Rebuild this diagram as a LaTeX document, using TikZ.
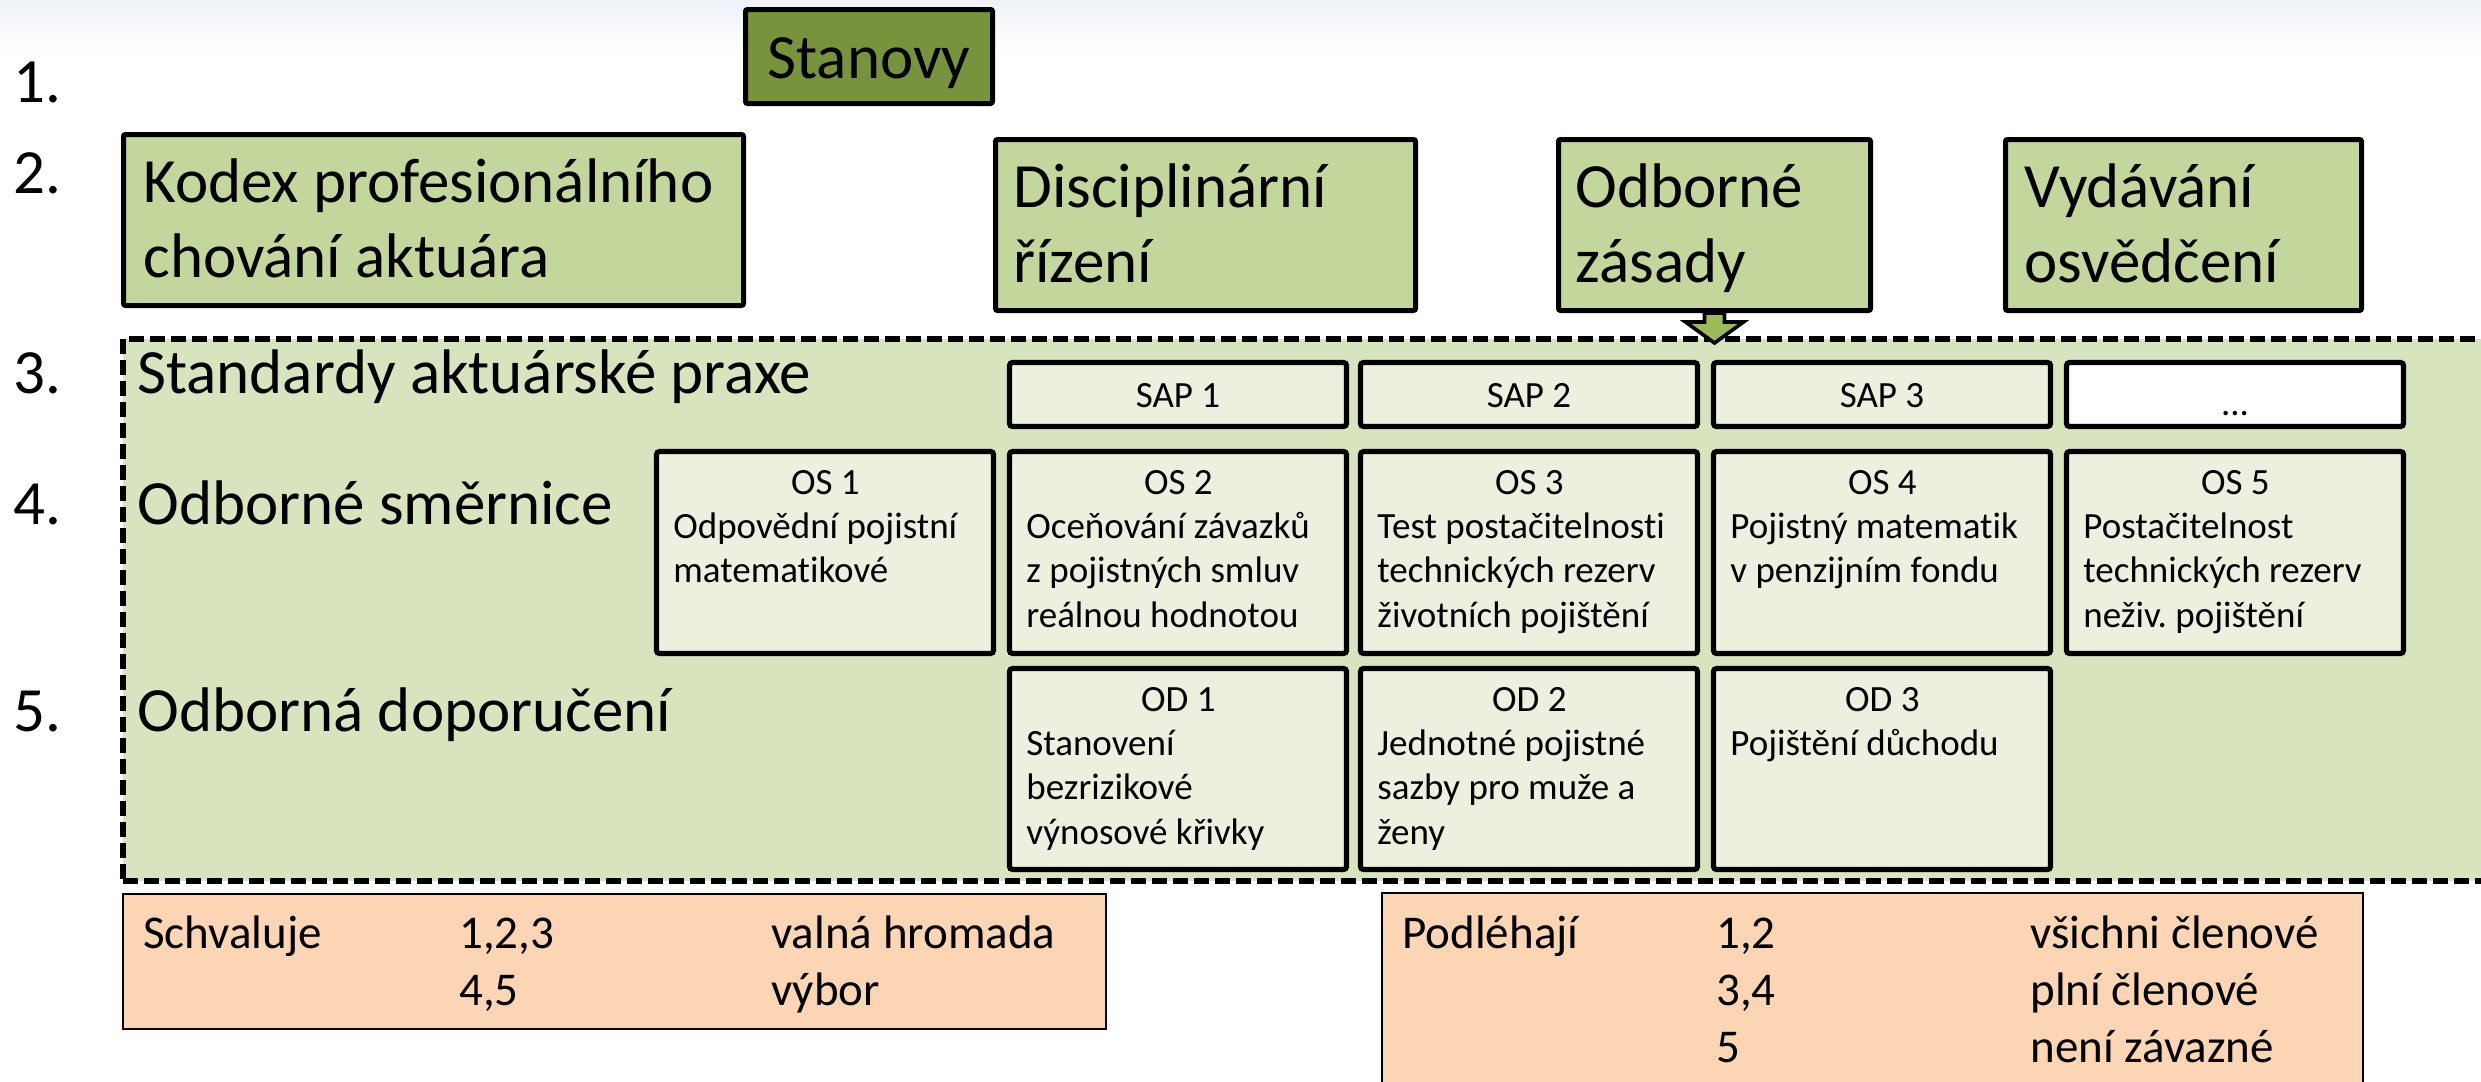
\documentclass[tikz,border=0pt]{standalone}
\usepackage{fontspec}
\setmainfont{Carlito}[Ligatures=NoCommon]
\frenchspacing
\usetikzlibrary{calc}
\definecolor{stanc}{HTML}{77933C}
\definecolor{lvltwo}{HTML}{C3D69B}
\definecolor{stdbg}{HTML}{D7E4BD}
\definecolor{smallbg}{HTML}{EBF1DE}
\definecolor{peach}{HTML}{FCD5B5}
\definecolor{arrowg}{HTML}{9BBB59}
\definecolor{topgrey}{HTML}{EEF2F7}
\newcommand\bigf{\fontsize{31.5}{37.8}\selectfont}
\newcommand\smallf{\fontsize{18.5}{22.2}\selectfont}
\newcommand\midf{\fontsize{23.5}{28.5}\selectfont}
\newcommand\cellbody[2]{\parbox[t]{152pt}{\centering #1\par\raggedright #2}}
\newcommand\twolines[1]{\begin{tabular}[t]{@{}l@{}}#1\end{tabular}}
\tikzset{
  lbl/.style={anchor=base west, inner sep=0, font=\bigf},
  stanbox/.style={draw, line width=2.5pt, fill=stanc, rounded corners=1pt, inner sep=0},
  greenbox/.style={draw, line width=2.5pt, fill=lvltwo, rounded corners=1pt, inner sep=0, minimum height=85.5pt},
  dashbox/.style={draw, line width=2.6pt, dash pattern=on 7.5pt off 3pt, fill=stdbg, inner sep=0},
  cellbox/.style={draw, line width=2.6pt, fill=smallbg, rounded corners=1.5pt, inner sep=0, minimum width=168.5pt},
  sapbox/.style={cellbox, minimum height=32pt},
  osbox/.style={cellbox, minimum height=101pt},
  odbox/.style={cellbox, minimum height=100.5pt},
  celltxt/.style={anchor=base west, inner sep=0, font=\smallf},
  saptxt/.style={anchor=base, inner sep=0, font=\smallf},
  notebox/.style={draw, line width=1pt, fill=peach, inner sep=0},
  notetxt/.style={anchor=base west, inner sep=0, font=\midf},
  blockarrow/.style={draw, line width=1.8pt, fill=arrowg, line join=miter}
}
\begin{document}
\begin{tikzpicture}[x=0.5pt,y=-0.5pt]
\useasboundingbox (0,0) rectangle (2481,1082);
\clip (0,0) rectangle (2481,1082);
\fill[white] (0,0) rectangle (2481,1082);
\shade[top color=topgrey, bottom color=white] (0,0) rectangle (2481,55);

% level numbers
\node[lbl] (n1) at (13,102) {1.};
\node[lbl] (n2) at (13,193) {2.};
\node[lbl] (n3) at (13,393) {3.};
\node[lbl] (n4) at (13,524) {4.};
\node[lbl] (n5) at (13,731) {5.};

% level 1
\node[stanbox, minimum width=123.5pt, minimum height=47pt] (stan) at (869,56.5) {};
\node[anchor=base, inner sep=0, font=\bigf] (stant) at (869,78) {Stanovy};

% level 2
\node[greenbox, minimum width=310pt] (kodex) at (433.5,220) {};
\node[lbl] (kodext) at (143,202) {\twolines{Kodex profesionálního\\chování aktuára}};
\node[greenbox, minimum width=210pt] (disc) at (1205.5,225) {};
\node[lbl] (disct) at (1013,207) {\twolines{Disciplinární\\řízení}};
\node[greenbox, minimum width=156pt] (oz) at (1714.5,225) {};
\node[lbl] (ozt) at (1575,207) {\twolines{Odborné\\zásady}};
\node[greenbox, minimum width=178pt] (vyd) at (2183.5,225) {};
\node[lbl] (vydt) at (2024,207) {\twolines{Vydávání\\osvědčení}};

% standards area
\node[dashbox, minimum width=1208.5pt, minimum height=271pt] (std) at (1331.5,610) {};

% arrow from Odborné zásady into the standards area
\draw[blockarrow] ($(oz.south)+(-10,0)$) -- ($(oz.south)+(-10,9)$) -- ($(oz.south)+(-29,9)$)
  -- ($(oz.south)+(0,30)$) -- ($(oz.south)+(29,9)$) -- ($(oz.south)+(10,9)$)
  -- ($(oz.south)+(10,0)$) -- cycle;

\node[lbl] (r3) at (137,393) {Standardy aktuárské praxe};
\node[lbl] (r4) at (137,524) {Odborné směrnice};
\node[lbl] (r5) at (137,731) {Odborná doporučení};

% SAP row
\node[sapbox] (sap1) at (1178,394.5) {};
\node[sapbox] (sap2) at (1529,394.5) {};
\node[sapbox] (sap3) at (1882,394.5) {};
\node[sapbox, fill=white] (sap4) at (2235,394.5) {};
\node[saptxt] (sap1t) at (1178,407) {SAP 1};
\node[saptxt] (sap2t) at (1529,407) {SAP 2};
\node[saptxt] (sap3t) at (1882,407) {SAP 3};
\node[saptxt] (sap4t) at (2235,415) {...};

% OS row
\node[osbox] (os1) at (825,552.5) {};
\node[osbox] (os2) at (1178,552.5) {};
\node[osbox] (os3) at (1529,552.5) {};
\node[osbox] (os4) at (1882,552.5) {};
\node[osbox] (os5) at (2235,552.5) {};
\node[celltxt] (os1t) at (673,494) {\cellbody{OS 1}{Odpovědní pojistní\\matematikové}};
\node[celltxt] (os2t) at (1026,494) {\cellbody{OS 2}{Oceňování závazků\\z pojistných smluv\\reálnou hodnotou}};
\node[celltxt] (os3t) at (1377,494) {\cellbody{OS 3}{Test postačitelnosti\\technických rezerv\\životních pojištění}};
\node[celltxt] (os4t) at (1730,494) {\cellbody{OS 4}{Pojistný matematik\\v penzijním fondu}};
\node[celltxt] (os5t) at (2083,494) {\cellbody{OS 5}{Postačitelnost\\technických rezerv\\neživ. pojištění}};

% OD row
\node[odbox] (od1) at (1178,769) {};
\node[odbox] (od2) at (1529,769) {};
\node[odbox] (od3) at (1882,769) {};
\node[celltxt] (od1t) at (1026,711) {\cellbody{OD 1}{Stanovení\\bezrizikové\\výnosové křivky}};
\node[celltxt] (od2t) at (1377,711) {\cellbody{OD 2}{Jednotné pojistné\\sazby pro muže a\\ženy}};
\node[celltxt] (od3t) at (1730,711) {\cellbody{OD 3}{Pojištění důchodu}};

% notes
\node[notebox, minimum width=491.5pt, minimum height=67.5pt] (appr) at (614.5,961.5) {};
\node[notetxt] (a1) at (143,948) {Schvaluje};
\node[notetxt] (a2) at (459,948) {1,2,3};
\node[notetxt] (a3) at (771,948) {valná hromada};
\node[notetxt] (a4) at (459,1005) {4,5};
\node[notetxt] (a5) at (771,1005) {výbor};

\node[notebox, minimum width=490.5pt, minimum height=107pt] (subj) at (1872.5,1000) {};
\node[notetxt] (b1) at (1402,948) {Podléhají};
\node[notetxt] (b2) at (1716,948) {1,2};
\node[notetxt] (b3) at (2030,948) {všichni členové};
\node[notetxt] (b4) at (1716,1005) {3,4};
\node[notetxt] (b5) at (2030,1005) {plní členové};
\node[notetxt] (b6) at (1716,1062) {5};
\node[notetxt] (b7) at (2030,1062) {není závazné};
\end{tikzpicture}
\end{document}
